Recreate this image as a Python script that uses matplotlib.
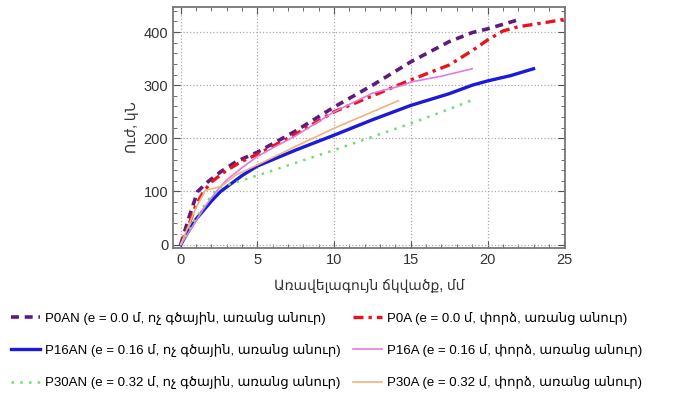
import matplotlib

matplotlib.use("Agg")
import matplotlib.pyplot as plt
from matplotlib.ticker import MultipleLocator

plt.rcParams["font.family"] = ["Liberation Sans", "DejaVu Sans"]

# deflection (mm) / load (kN)
p0an_x = [0, 0.5, 1.1, 1.8, 2.6, 3.6, 5, 7.5, 10, 12.5, 15, 17.5, 19, 20, 22]
p0an_y = [0, 48, 100, 119, 137, 156, 174, 214, 259, 300, 344, 382, 399, 406, 423]

p0a_x = [0, 0.5, 1, 1.5, 2, 3, 4, 5, 7.5, 10, 12.5, 15, 17.5, 19, 20, 21, 22, 24, 25]
p0a_y = [0, 35, 75, 100, 118, 140, 157, 170, 208, 250, 280, 310, 338, 365, 385, 402, 410, 419, 424]

p16an_x = [0, 0.5, 1, 1.5, 2, 2.6, 4, 5, 7.5, 10, 12.5, 15, 17.5, 19, 20, 21.5, 23]
p16an_y = [0, 25, 48, 65, 82, 100, 130, 148, 178, 206, 235, 262, 284, 300, 308, 318, 331]

p16a_x = [0, 0.5, 1, 1.5, 2, 2.4, 3, 4, 5, 6, 7.5, 10, 12.5, 14.5, 15, 17, 19]
p16a_y = [0, 22, 45, 68, 88, 103, 122, 145, 166, 182, 205, 250, 285, 300, 306, 317, 331]

p30an_x = [0, 0.5, 1, 1.5, 2, 2.4, 3, 5, 7.5, 10, 12.5, 15, 17.5, 19]
p30an_y = [0, 25, 50, 72, 92, 106, 112, 130, 154, 178, 203, 228, 255, 272]

p30a_x = [0, 0.5, 1, 1.6, 2, 2.6, 3.6, 5, 7.5, 10, 12.5, 14.2]
p30a_y = [0, 35, 70, 102, 105, 109, 131, 150, 185, 219, 250, 271]

labels = [
    "P0AN (e = 0.0 մ, ոչ գծային, առանց անուր)",
    "P0A (e = 0.0 մ, փորձ, առանց անուր)",
    "P16AN (e = 0.16 մ, ոչ գծային, առանց անուր)",
    "P16A (e = 0.16 մ, փորձ, առանց անուր)",
    "P30AN (e = 0.32 մ, ոչ գծային, առանց անուր)",
    "P30A (e = 0.32 մ, փորձ, առանց անուր)",
]

fig = plt.figure(figsize=(6.84, 3.94), dpi=100)
ax = fig.add_axes([0.253, 0.371, 0.573, 0.611])

l0 = ax.plot(p0an_x, p0an_y, color="#5e1b7e", lw=2.6, ls=(0, (2.2, 1.6)), label=labels[0])[0]
l1 = ax.plot(p0a_x, p0a_y, color="#e8141c", lw=2.4, ls=(0, (3, 1.5, 1, 1.5)), label=labels[1])[0]
l2 = ax.plot(p16an_x, p16an_y, color="#1a1ad8", lw=2.4, label=labels[2])[0]
l3 = ax.plot(p16a_x, p16a_y, color="#e27ae2", lw=1.2, label=labels[3])[0]
l4 = ax.plot(p30an_x, p30an_y, color="#6ee06e", lw=1.8, ls=(0, (1, 2.5)), label=labels[4])[0]
l5 = ax.plot(p30a_x, p30a_y, color="#f5b07c", lw=1.2, label=labels[5])[0]

ax.set_xlim(-0.5, 25.05)
ax.set_ylim(-6, 447)
ax.xaxis.set_major_locator(MultipleLocator(5))
ax.xaxis.set_minor_locator(MultipleLocator(1))
ax.yaxis.set_major_locator(MultipleLocator(100))
ax.yaxis.set_minor_locator(MultipleLocator(20))
ax.tick_params(which="both", direction="in", top=True, right=True, color="#555555",
               labelcolor="#333333", labelsize=10.5)
ax.tick_params(which="major", length=5)
ax.tick_params(which="minor", length=3)
for s in ax.spines.values():
    s.set_color("#777777")
    s.set_linewidth(1.3)
ax.grid(True, which="major", ls=":", color="#aaaaaa", lw=0.9)

ax.set_xlabel("Առավելագույն ճկվածք, մմ", fontsize=10, color="#333333", labelpad=9)
ax.set_ylabel("Ուժ, կՆ", fontsize=10, color="#333333", labelpad=3)

# column-major fill: left column = AN curves, right column = A curves
handles = [l0, l2, l4, l1, l3, l5]
fig.legend(handles, [h.get_label() for h in handles], loc="upper left",
           bbox_to_anchor=(0.008, 0.222), ncol=2, frameon=False,
           fontsize=9.5, handlelength=2.2, handletextpad=0.4, columnspacing=0.9,
           labelspacing=1.45, borderaxespad=0)

fig.savefig("out.png", dpi=100)
